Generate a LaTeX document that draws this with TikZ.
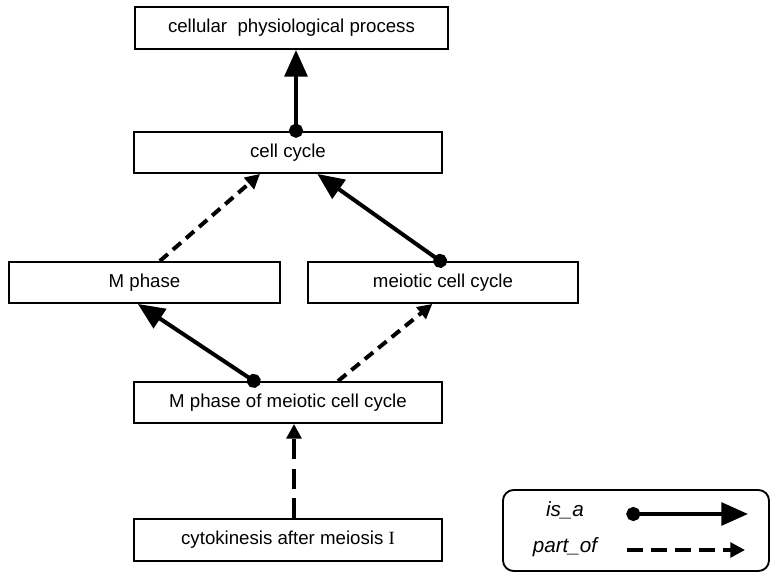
\documentclass[tikz,border=0pt]{standalone}
\usepackage{fontspec}
\setmainfont{Liberation Sans}
\newfontfamily\numeralFont{Liberation Serif}
\usetikzlibrary{arrows.meta}
\def\boxHeight{30.75pt}
\def\wideBoxWidth{231pt}
\def\sideBoxWidth{203pt}
\tikzset{
  termBox/.style={
    draw,
    line width=1.4pt,
    inner sep=0pt,
    minimum height=\boxHeight,
    minimum width=\wideBoxWidth,
    font=\fontsize{14pt}{16pt}\selectfont
  },
  sideBox/.style={termBox,minimum width=\sideBoxWidth},
  isA/.style={
    line width=3pt,
    shorten <=-5pt,
    {Circle[length=10.5pt]}-{Triangle[length=20pt,width=17pt]}
  },
  partOf/.style={
    line width=3pt,
    dash pattern=on 8pt off 5pt,
    -{Triangle[length=11pt,width=11pt]}
  },
  legendBox/.style={draw,line width=1.4pt,rounded corners=8pt},
  legendText/.style={font=\fontsize{15.5pt}{18pt}\selectfont\itshape}
}
\begin{document}
\begin{tikzpicture}[x=0.75pt,y=-0.75pt]
  \useasboundingbox (0,0) rectangle (771,573);

  % terms
  \node[termBox,minimum width=234.75pt,minimum height=31.5pt] (cpp) at (291.5,28) {cellular\ \ physiological process};
  \node[termBox] (cc) at (288,152.5) {cell cycle};
  \node[sideBox] (mph) at (144.5,282.5) {M phase};
  \node[sideBox] (mcc) at (443,282.5) {meiotic cell cycle};
  \node[termBox] (mpm) at (288,402.5) {M phase of meiotic cell cycle};
  \node[termBox,minimum height=31.5pt] (cyto) at (288,540) {cytokinesis after meiosis {\numeralFont I}};

  % relations
  \draw[isA] ([xshift=6pt]cc.north) -- ([xshift=6pt]cc.north |- cpp.south);
  \draw[partOf] ([xshift=11.5pt]mph.north) -- ([xshift=-21pt]cc.south);
  \draw[isA] ([xshift=-2pt]mcc.north) -- ([xshift=22pt]cc.south);
  \draw[isA] ([xshift=-25.5pt]mpm.north) -- ([xshift=-5pt]mph.south);
  \draw[partOf] ([xshift=37.5pt]mpm.north) -- ([xshift=-8pt]mcc.south);
  \draw[partOf,dash pattern=on 15pt off 7pt] ([xshift=4.5pt]cyto.north) -- ([xshift=4.5pt]cyto.north |- mpm.south);

  % legend
  \node[legendBox,minimum width=199.5pt,minimum height=60.75pt] (legend) at (636,530.5) {};
  \node[legendText] (isaLabel) at (565,510) {is\_a};
  \node[legendText] (partofLabel) at (565,547) {part\_of};
  \coordinate (isaStart) at (633,514);
  \coordinate (isaEnd) at (748,514);
  \coordinate (partofStart) at (627,550);
  \coordinate (partofEnd) at (745,550);
  \draw[isA] (isaStart) -- (isaEnd);
  \draw[partOf,dash pattern=on 12pt off 6pt] (partofStart) -- (partofEnd);
\end{tikzpicture}
\end{document}
